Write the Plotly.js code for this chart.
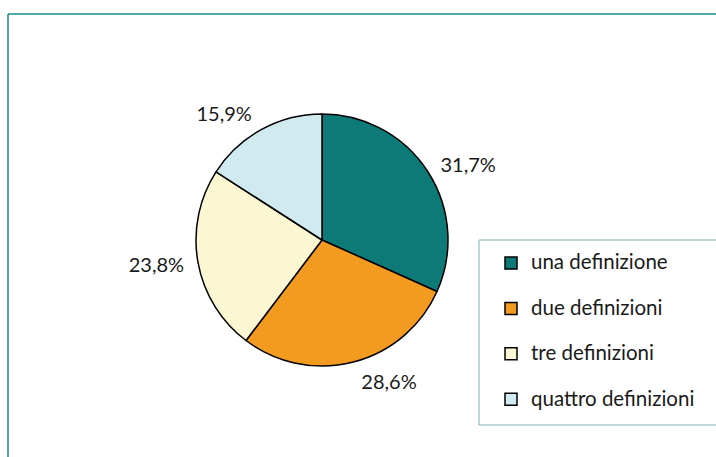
<!DOCTYPE html>
<html><head><meta charset="utf-8">
<script src="https://cdn.plot.ly/plotly-3.0.1.min.js"></script>
<style>html,body{margin:0;padding:0;background:#fff}</style>
</head><body>
<div id="chart" style="width:716px;height:457px"></div>
<script>
const categories = ["una definizione", "due definizioni", "tre definizioni", "quattro definizioni"];
const values = [31.7, 28.6, 23.8, 15.9];
const colors = ["#0e7a78", "#f39a21", "#fbf7d2", "#d1eaf0"];

const W = 716, H = 457;
const px = x => x / W, py = y => 1 - y / H;
const cx = 322, cy = 240, R = 126, RL = 134;

const pie = {
  type: "pie",
  labels: categories.map(c => "<span style='font-size:20.5px'>" + c + "</span><br> "),
  values: values,
  sort: false,
  direction: "clockwise",
  rotation: 0,
  marker: {colors: colors, line: {color: "#000", width: 1.5}},
  textinfo: "none",
  domain: {x: [px(cx - R), px(cx + R)], y: [py(cy + R), py(cy - R)]},
  hoverinfo: "label+percent"
};

// label carrier: same slices, invisible, slightly larger so the outside labels sit a little further out
const labelPie = {
  type: "pie",
  labels: categories,
  values: values,
  sort: false,
  direction: "clockwise",
  rotation: 0,
  marker: {colors: colors.map(() => "rgba(0,0,0,0)"), line: {width: 0}},
  textposition: "outside",
  texttemplate: "%{value:.1f}%",
  textfont: {family: "Lato, sans-serif", size: 20, color: "#1a1a1a"},
  domain: {x: [px(cx - RL), px(cx + RL)], y: [py(cy + RL), py(cy - RL)]},
  showlegend: false,
  hoverinfo: "skip"
};

const layout = {
  width: W, height: H,
  margin: {l: 0, r: 0, t: 0, b: 0},
  paper_bgcolor: "#fff",
  separators: ",.",
  showlegend: true,
  legend: {
    x: px(491), xanchor: "left",
    y: py(246), yanchor: "top",
    valign: "top",
    borderwidth: 0,
    bgcolor: "rgba(0,0,0,0)",
    font: {family: "Lato, sans-serif", size: 16.3, color: "#1a1a1a"}
  },
  shapes: [
    {type: "line", xref: "paper", yref: "paper", x0: px(8), x1: 1.02, y0: py(14), y1: py(14), line: {color: "#1a8a8a", width: 1.5}},
    {type: "line", xref: "paper", yref: "paper", x0: px(8), x1: px(8), y0: py(14), y1: -0.02, line: {color: "#1a8a8a", width: 1.5}},
    {type: "rect", xref: "paper", yref: "paper", x0: px(479), x1: 1.02, y0: py(240), y1: py(425), line: {color: "#7ab3b3", width: 1}}
  ]
};

Plotly.newPlot("chart", [pie, labelPie], layout, {displayModeBar: false, staticPlot: true});
</script>
</body></html>
